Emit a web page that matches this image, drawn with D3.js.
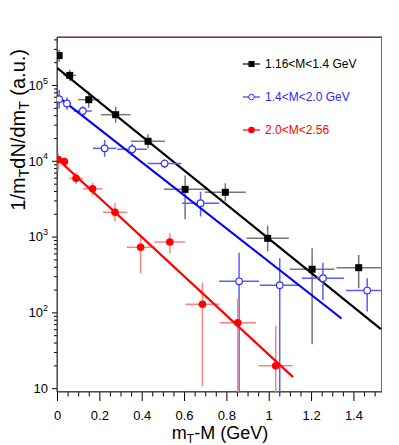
<!DOCTYPE html>
<html>
<head>
<meta charset="utf-8">
<script src="https://cdn.jsdelivr.net/npm/d3@7"></script>
<style>
body { margin: 0; background: #fff; }
text { font-family: "Liberation Sans", Arial, Helvetica, sans-serif; }
</style>
</head>
<body>
<svg id="graph"></svg>
<script>
// 1.16<M<1.4 GeV  (black squares)
var blackX    = [0.01, 0.06, 0.15, 0.277, 0.43, 0.605, 0.795, 0.995, 1.205, 1.425];
var blackXErr = [0.01, 0.03, 0.05, 0.07, 0.08, 0.10, 0.097, 0.10, 0.105, 0.105];
var blackY    = [2.44e5, 1.34e5, 6.4e4, 4.06e4, 1.81e4, 4.2e3, 3.84e3, 948, 371, 389];
var blackYLo  = [2.03e5, 1.13e5, 5.0e4, 3.17e4, 1.46e4, 1.69e3, 2.92e3, 640, 38, 208];
var blackYHi  = [2.93e5, 1.59e5, 8.2e4, 5.2e4, 2.24e4, 6.4e3, 5.05e3, 1400, 701, 573];
var blackFitX = [0, 1.53];
var blackFitY = [1.69e5, 60];

// 1.4<M<2.0 GeV  (blue open circles)
var blueX    = [0.01, 0.047, 0.122, 0.225, 0.355, 0.508, 0.678, 0.86, 1.052, 1.256, 1.465];
var blueXErr = [0.01, 0.02, 0.043, 0.055, 0.07, 0.079, 0.088, 0.094, 0.094, 0.10, 0.10];
var blueY    = [6.5e4, 5.7e4, 4.54e4, 1.46e4, 1.42e4, 9.2e3, 2.76e3, 257, 228, 282, 194];
var blueYLo  = [4.9e4, 4.7e4, 3.9e4, 1.13e4, 1.2e4, 8.0e3, 1.84e3, 1, 1, 146, 103];
var blueYHi  = [8.6e4, 6.9e4, 5.3e4, 1.88e4, 1.68e4, 1.05e4, 3.9e3, 610, 518, 453, 283];
var blueFitX = [0, 1.344];
var blueFitY = [7.2e4, 83];

// 2.0<M<2.56  (red filled circles)
var redX    = [0.006, 0.035, 0.09, 0.168, 0.274, 0.395, 0.533, 0.687, 0.854, 1.033];
var redXErr = [0.01, 0.015, 0.032, 0.046, 0.057, 0.065, 0.073, 0.08, 0.086, 0.08];
var redY    = [1.035e4, 9.8e3, 5.87e3, 4.28e3, 2.09e3, 723, 849, 128, 73, 19.8];
var redYLo  = [7.6e3, 8.7e3, 4.9e3, 3.55e3, 1.58e3, 327, 602, 10.7, 1, 1];
var redYHi  = [1.25e4, 1.1e4, 7.0e3, 5.17e3, 2.75e3, 1050, 1110, 247, 153, 66];
var redFitX = [0, 1.115];
var redFitY = [1.07e4, 14];

var legendLabels = ["1.16<M<1.4 GeV", "1.4<M<2.0 GeV", "2.0<M<2.56"];
var xTickValues = [0, 0.2, 0.4, 0.6, 0.8, 1.0, 1.2, 1.4];
var xTickLabels = ["0", "0.2", "0.4", "0.6", "0.8", "1", "1.2", "1.4"];
var yTickValues = [10, 1e2, 1e3, 1e4, 1e5];
var yTickExps   = ["", "2", "3", "4", "5"];

var svg = d3.select("#graph")
  .attr('width', 399)
  .attr('height', 445)

// frame position inside the canvas
var margin = {top: 37, right: 17, bottom: 53, left: 57},
    width = 399 - margin.left - margin.right,
    height = 445 - margin.top - margin.bottom;

var x = d3.scaleLinear().domain([0, 1.535]).range([0, width]);
var y = d3.scaleLog().domain([8.9, 4.3e5]).range([height, 0]);

var g = svg.append("g")
  .attr("transform", "translate(" + margin.left + "," + margin.top + ")")

g.append("clipPath").attr("id", "plotclip")
  .append("rect").attr("width", width).attr("height", height)

// minor ticks
var xMinor = d3.range(0, 1.535, 0.05).filter(function(v) { return Math.abs(v / 0.2 - Math.round(v / 0.2)) > 1e-6; });
var yMinor = [];
[10, 100, 1000, 1e4, 1e5].forEach(function(d) {
  for (var k = 2; k <= 9; k++) if (d * k < 4.3e5) yMinor.push(d * k);
});

g.append("g")
  .attr("transform", "translate(0," + height + ")")
  .call(d3.axisBottom(x).tickValues(xMinor).tickSize(4.5).tickFormat(""))
  .call(function(a) { a.select(".domain").remove(); });

var xAxis = g.append("g")
  .attr("transform", "translate(0," + height + ")")
  .call(d3.axisBottom(x).tickValues(xTickValues).tickSize(9).tickPadding(10)
    .tickFormat(function(d, i) { return xTickLabels[i]; }))
xAxis.select(".domain").remove();
xAxis.selectAll("text").attr("font-size", 13).attr("fill", "#000");

g.append("g")
  .call(d3.axisLeft(y).tickValues(yMinor).tickSize(3).tickFormat(""))
  .call(function(a) { a.select(".domain").remove(); });

var yAxis = g.append("g")
  .call(d3.axisLeft(y).tickValues(yTickValues).tickSize(5).tickPadding(6).tickFormat(""))
yAxis.select(".domain").remove();
yAxis.selectAll(".tick").each(function(d, i) {
  var t = d3.select(this).append("text")
    .attr("x", -9).attr("dy", "0.33em")
    .attr("text-anchor", "end")
    .attr("font-size", 13)
    .attr("fill", "#000")
  t.append("tspan").text("10");
  if (yTickExps[i]) {
    t.append("tspan").attr("font-size", 9).attr("dy", "-0.7em").text(yTickExps[i]);
  }
})

// frame
g.append("rect")
  .attr("x", 0.5).attr("y", 0.5)
  .attr("width", width - 1).attr("height", height - 1)
  .attr("fill", "none")
  .attr("stroke", "#d94040")
  .attr("stroke-width", 1)
g.append("line").attr("x1", 0).attr("x2", 0).attr("y1", 0).attr("y2", height)
  .attr("stroke", "#333").attr("stroke-width", 1)
g.append("line").attr("x1", 0).attr("x2", width).attr("y1", height).attr("y2", height)
  .attr("stroke", "#333").attr("stroke-width", 1)
g.append("line").attr("x1", 0).attr("x2", width).attr("y1", 0).attr("y2", 0)
  .attr("stroke", "#5a1a1a").attr("stroke-width", 1)

var series = [
  {name: "black", xs: blackX, xe: blackXErr, ys: blackY, lo: blackYLo, hi: blackYHi, fx: blackFitX, fy: blackFitY,
   bar: "#777", fit: "#000", mark: "#000", shape: "square", text: "#000"},
  {name: "blue", xs: blueX, xe: blueXErr, ys: blueY, lo: blueYLo, hi: blueYHi, fx: blueFitX, fy: blueFitY,
   bar: "#5b5bff", fit: "#0000ff", mark: "#3434ff", shape: "open", text: "#2a2aff"},
  {name: "red", xs: redX, xe: redXErr, ys: redY, lo: redYLo, hi: redYHi, fx: redFitX, fy: redFitY,
   bar: "#ff8080", fit: "#ff0000", mark: "#ff0000", shape: "dot", text: "#ff0000"}
];

var plot = g.append("g").attr("clip-path", "url(#plotclip)")

series.forEach(function(s) {
  var pts = s.xs.map(function(v, i) {
    return {x: v, xe: s.xe[i], y: s.ys[i], lo: s.lo[i], hi: s.hi[i]};
  });
  var grp = plot.append("g").attr("class", s.name)

  // error bars
  grp.selectAll(".xerr").data(pts).enter().append("line")
    .attr("x1", function(d) { return x(d.x - d.xe); })
    .attr("x2", function(d) { return x(d.x + d.xe); })
    .attr("y1", function(d) { return y(d.y); })
    .attr("y2", function(d) { return y(d.y); })
    .attr("stroke", s.bar).attr("stroke-width", 1.5)
  grp.selectAll(".yerr").data(pts).enter().append("line")
    .attr("x1", function(d) { return x(d.x); })
    .attr("x2", function(d) { return x(d.x); })
    .attr("y1", function(d) { return y(d.lo); })
    .attr("y2", function(d) { return y(d.hi); })
    .attr("stroke", s.bar).attr("stroke-width", 1.5)

  // fit line
  grp.append("line")
    .attr("x1", x(s.fx[0])).attr("y1", y(s.fy[0]))
    .attr("x2", x(s.fx[1])).attr("y2", y(s.fy[1]))
    .attr("stroke", s.fit).attr("stroke-width", 2.2)

  // markers
  if (s.shape == "square") {
    grp.selectAll(".mk").data(pts).enter().append("rect")
      .attr("x", function(d) { return x(d.x) - 3.5; })
      .attr("y", function(d) { return y(d.y) - 3.5; })
      .attr("width", 7).attr("height", 7)
      .attr("fill", s.mark)
  } else {
    grp.selectAll(".mk").data(pts).enter().append("circle")
      .attr("cx", function(d) { return x(d.x); })
      .attr("cy", function(d) { return y(d.y); })
      .attr("r", s.shape == "open" ? 3.3 : 3.8)
      .attr("fill", s.shape == "open" ? "#fff" : s.mark)
      .attr("stroke", s.mark).attr("stroke-width", s.shape == "open" ? 1.2 : 0)
  }
})

// legend
var legend = svg.append("g").attr("transform", "translate(243,64)")
series.forEach(function(s, i) {
  var row = legend.append("g").attr("transform", "translate(0," + (i * 33) + ")")
  row.append("line").attr("x1", 0).attr("x2", 17).attr("y1", 0).attr("y2", 0)
    .attr("stroke", s.mark).attr("stroke-width", 1.2)
  if (s.shape == "square") {
    row.append("rect").attr("x", 5.5).attr("y", -3).attr("width", 6).attr("height", 6).attr("fill", s.mark)
  } else {
    row.append("circle").attr("cx", 8.5).attr("cy", 0).attr("r", s.shape == "open" ? 2.8 : 3.3)
      .attr("fill", s.shape == "open" ? "#fff" : s.mark)
      .attr("stroke", s.mark).attr("stroke-width", s.shape == "open" ? 1 : 0)
  }
  row.append("text").attr("x", 22).attr("y", 4.3)
    .attr("font-size", 12).attr("fill", s.text)
    .text(legendLabels[i])
})

// axis titles
var xt = svg.append("text")
  .attr("x", 220).attr("y", 439)
  .attr("text-anchor", "middle")
  .attr("font-size", 18)
xt.append("tspan").text("m")
xt.append("tspan").attr("font-size", 12).attr("dy", 4).text("T")
xt.append("tspan").attr("dy", -4).text("-M (GeV)")

var yt = svg.append("text")
  .attr("transform", "translate(25,49) rotate(-90)")
  .attr("text-anchor", "end")
  .attr("font-size", 20)
yt.append("tspan").text("1/m")
yt.append("tspan").attr("font-size", 14).attr("dy", 4).text("T")
yt.append("tspan").attr("dy", -4).text("dN/dm")
yt.append("tspan").attr("font-size", 14).attr("dy", 4).text("T")
yt.append("tspan").attr("dy", -4).text(" (a.u.)")
</script>
</body>
</html>
